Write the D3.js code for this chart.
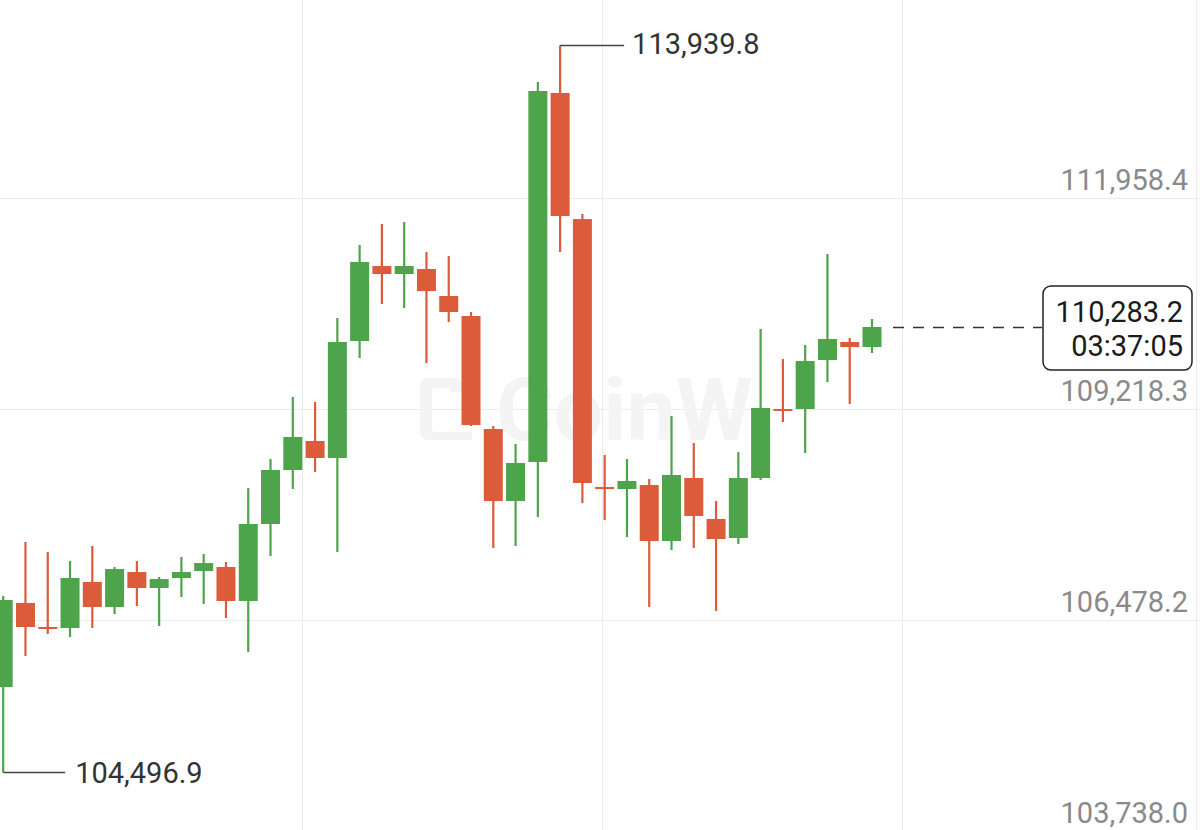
<!DOCTYPE html>
<html>
<head>
<meta charset="utf-8">
<script src="https://cdn.jsdelivr.net/npm/d3@7"></script>
<style>
  html, body { margin: 0; padding: 0; background: #fff; }
  svg { display: block; font-family: Roboto, "Noto Sans", sans-serif; }
</style>
</head>
<body>
<div class="chart_area"></div>
<script>
// candle data, oldest -> newest
var opens  = [105608, 106699, 106387, 106374, 106972, 106647, 107101, 106894, 107023, 107114,
              107166, 106725, 107725, 108426, 108803, 108582, 110101, 111075, 110971, 111036,
              110686, 110426, 108958, 108023, 108530, 113322, 111685, 108205, 108179, 108231,
              107504, 108322, 107790, 107543, 108322, 109218, 109218, 109854, 110088, 110023];
var highs  = [106790, 107491, 107361, 107244, 107439, 107166, 107244, 107036, 107296, 107335,
              107231, 108192, 108569, 109374, 109309, 110400, 111348, 111621, 111647, 111257,
              111205, 110478, 108997, 108764, 113465, 113939.8, 111750, 108621, 108569, 108309,
              109127, 108777, 108023, 108660, 110257, 109867, 110049, 111231, 110140, 110387];
var lows   = [104496.9, 106011, 106296, 106257, 106374, 106556, 106660, 106400, 106777, 106686,
              106504, 106062, 107309, 108179, 108400, 107361, 109880, 110582, 110530, 109815,
              110348, 108997, 107413, 107439, 107816, 111257, 107997, 107777, 107556, 106647,
              107387, 107413, 106595, 107465, 108296, 109049, 108647, 109569, 109283, 109945];
var closes = [106738, 106387, 106374, 107024, 106647, 107140, 106894, 107010, 107101, 107218,
              106725, 107725, 108426, 108855, 108582, 110088, 111127, 110971, 111075, 110750,
              110478, 109010, 108023, 108517, 113348, 111724, 108257, 108179, 108283, 107504,
              108361, 107829, 107530, 108322, 109231, 109192, 109841, 110127, 110023, 110283.2];

var yTicks = [103738.0, 106478.2, 109218.3, 111958.4];
var maxPrice = 113939.8, minPrice = 104496.9;
var lastPrice = 110283.2, countdown = "03:37:05";

var width = 1200, height = 830;
var green = "#4ea44a", red = "#dc5b3b";
var fontSize = 29;

var data = opens.map(function(o, i) {
  return {i: i, open: o, high: highs[i], low: lows[i], close: closes[i]};
});

var svg = d3.select(".chart_area").append("svg")
    .attr("width", width)
    .attr("height", height);

var x = d3.scaleLinear().domain([0, data.length - 1]).range([3.2, 872]);
var y = d3.scaleLinear().domain([103738.0, 111958.4]).range([831, 198]);
var candleW = 19;

var fmt = d3.format(",.1f");

// grid
svg.selectAll(".hgrid")
  .data(yTicks)
  .enter().append("line")
    .attr("class", "hgrid")
    .attr("x1", 0).attr("x2", width)
    .attr("y1", function(d) { return Math.round(y(d)) + 0.5; })
    .attr("y2", function(d) { return Math.round(y(d)) + 0.5; })
    .attr("stroke", "#ececec");

svg.selectAll(".vgrid")
  .data([302, 602, 902, 1196])
  .enter().append("line")
    .attr("class", "vgrid")
    .attr("x1", function(d) { return d + 0.5; })
    .attr("x2", function(d) { return d + 0.5; })
    .attr("y1", 0).attr("y2", height)
    .attr("stroke", "#ececec");

// watermark
var wm = svg.append("g").attr("fill", "#f4f4f4");
wm.append("path")
  .attr("d", "M432,378 h22 a10,10 0 0 1 10,10 v4 h-14 v-4 h-14 a4,4 0 0 0 -4,4 v36 a4,4 0 0 0 4,4 h36 v8 h-44 a8,8 0 0 1 -8,-8 v-46 a8,8 0 0 1 8,-8 z");
wm.append("text")
  .attr("x", 496).attr("y", 440)
  .attr("font-size", 88)
  .attr("font-weight", 700)
  .text("CoinW");

// wicks
svg.selectAll(".wick")
  .data(data)
  .enter().append("line")
    .attr("class", "wick")
    .attr("x1", function(d) { return x(d.i); })
    .attr("x2", function(d) { return x(d.i); })
    .attr("y1", function(d) { return y(d.high); })
    .attr("y2", function(d) { return y(d.low); })
    .attr("stroke", function(d) { return d.close >= d.open ? green : red; })
    .attr("stroke-width", 2.2);

// bodies
svg.selectAll(".body")
  .data(data)
  .enter().append("rect")
    .attr("class", "body")
    .attr("x", function(d) { return x(d.i) - candleW / 2; })
    .attr("width", candleW)
    .attr("y", function(d) { return y(Math.max(d.open, d.close)); })
    .attr("height", function(d) { return Math.max(2, Math.abs(y(d.open) - y(d.close))); })
    .attr("fill", function(d) { return d.close >= d.open ? green : red; });

// y labels
svg.selectAll(".ylab")
  .data(yTicks)
  .enter().append("text")
    .attr("class", "ylab")
    .attr("x", 1188)
    .attr("y", function(d) { return y(d) - 8; })
    .attr("text-anchor", "end")
    .attr("font-size", fontSize)
    .attr("fill", "#8a8a8a")
    .text(function(d) { return fmt(d); });

// max marker
var iMax = d3.maxIndex(data, function(d) { return d.high; });
svg.append("line")
  .attr("x1", x(iMax)).attr("x2", x(iMax) + 64)
  .attr("y1", y(maxPrice)).attr("y2", y(maxPrice))
  .attr("stroke", "#444").attr("stroke-width", 1.5);
svg.append("text")
  .attr("x", x(iMax) + 72).attr("y", y(maxPrice) + 9)
  .attr("font-size", fontSize).attr("fill", "#333")
  .text(fmt(maxPrice));

// min marker
var iMin = d3.minIndex(data, function(d) { return d.low; });
svg.append("line")
  .attr("x1", x(iMin)).attr("x2", x(iMin) + 62)
  .attr("y1", y(minPrice)).attr("y2", y(minPrice))
  .attr("stroke", "#444").attr("stroke-width", 1.5);
svg.append("text")
  .attr("x", x(iMin) + 72).attr("y", y(minPrice) + 10)
  .attr("font-size", fontSize).attr("fill", "#333")
  .text(fmt(minPrice));

// last price line + box
var ly = Math.round(y(lastPrice)) + 0.5;
svg.append("line")
  .attr("x1", x(data.length - 1) + 21).attr("x2", 1042)
  .attr("y1", ly).attr("y2", ly)
  .attr("stroke", "#333").attr("stroke-width", 1.5)
  .attr("stroke-dasharray", "11,9");

svg.append("rect")
  .attr("x", 1043).attr("y", 286)
  .attr("width", 149).attr("height", 84)
  .attr("rx", 8)
  .attr("fill", "#fff")
  .attr("stroke", "#222").attr("stroke-width", 1.5);

svg.append("text")
  .attr("x", 1183).attr("y", 322)
  .attr("text-anchor", "end")
  .attr("font-size", fontSize).attr("fill", "#1a1a1a")
  .text(fmt(lastPrice));
svg.append("text")
  .attr("x", 1183).attr("y", 356)
  .attr("text-anchor", "end")
  .attr("font-size", fontSize).attr("fill", "#1a1a1a")
  .text(countdown);
</script>
</body>
</html>
